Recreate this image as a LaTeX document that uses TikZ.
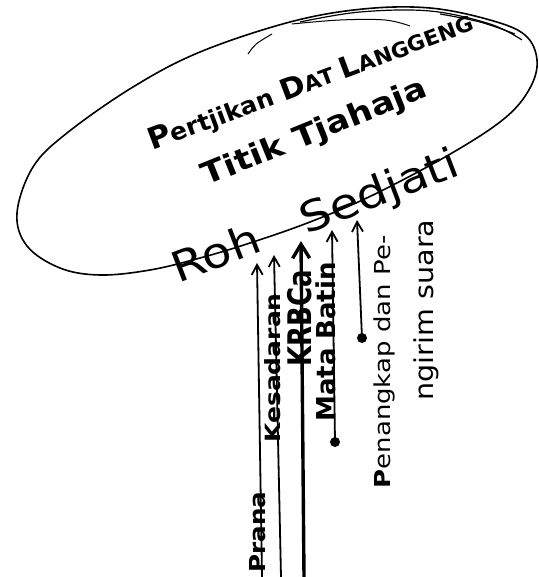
\documentclass[tikz,border=0pt]{standalone}
\usepackage{fontspec}
\setmainfont{DejaVu Sans}
\usetikzlibrary{arrows.meta}
\newcommand\fsz[1]{\fontsize{#1}{#1}\selectfont}
\begin{document}
\begin{tikzpicture}[x=1pt,y=-1pt,
  sketch/.style={line width=1.6pt, line cap=round, line join=round},
  arr/.style={line width=1.8pt, -{Straight Barb[length=10pt,width=11pt,line width=1.8pt]}},
  bigarr/.style={line width=3.4pt, -{Straight Barb[length=14pt,width=17pt,line width=3.4pt]}},
  vlbl/.style={inner sep=0pt, anchor=mid, rotate=90},
  dotnode/.style={circle, fill=black, inner sep=0pt, minimum size=10pt}]
\useasboundingbox (0,0) rectangle (538,577);

% sketched ellipse
\draw[sketch] plot[smooth cycle, tension=0.6] coordinates {
  (17,213) (27,246) (60,268) (100,275) (150,270) (200,258) (250,243)
  (310,222) (373,195) (452,153) (505,118) (530,88) (537,60) (525,35)
  (490,20) (430,8) (363,9) (290,22) (200,52) (133,87) (67,133) (33,167)};
\draw[line width=1.2pt] plot[smooth, tension=0.6] coordinates {
  (300,22) (360,12) (430,11) (490,24) (522,40)};
\draw[line width=1pt] plot[smooth, tension=0.6] coordinates {
  (292,24) (340,20) (385,20) (410,26)};
\draw[line width=1.2pt] plot[smooth, tension=0.6] coordinates {
  (440,14) (480,22) (515,34)};
\draw[line width=1pt] (248,54) .. controls (255,44) .. (272,34);

% texts inside the ellipse
\node[inner sep=0pt, anchor=base, rotate=20.5] (pertjikan) at (314,90)
  {\bfseries\scalebox{1.04}[1]{\fsz{30}P\fsz{24}ertjikan \fsz{29}D\fsz{21}AT \fsz{29}L\fsz{21}ANGGENG}};
\node[inner sep=0pt, anchor=base, rotate=22] (titik) at (318,141)
  {\bfseries\scalebox{1.15}[1]{\fsz{30}Titik Tjahaja}};
\node[inner sep=0pt, anchor=base, rotate=21] (roh) at (320,229)
  {\scalebox{1.15}[1]{\fsz{42}Roh\hspace{40pt}Sedjati}};

% arrows
\coordinate (pranaBot) at (262,577);
\coordinate (pranaTip) at (257,263);
\coordinate (kesBot) at (281,577);
\coordinate (kesTip) at (274,255);
\coordinate (krbBot) at (304,577);
\coordinate (krbTip) at (301,241);
\node[dotnode] (mataDot) at (335,442) {};
\coordinate (mataTip) at (332,230);
\node[dotnode] (penDot) at (362,338) {};
\coordinate (penTip) at (357,220);

\draw[arr] (pranaBot) -- (pranaTip);
\draw[arr] (kesBot) -- (kesTip);
\draw[bigarr] (krbBot) -- (krbTip);
\draw[arr] (mataDot.center) -- (mataTip);
\draw[arr] (penDot.center) -- (penTip);

% vertical labels
\node[vlbl, font=\bfseries\fsz{22}] (prana) at (263,532) {\scalebox{1.12}[1]{Prana}};
\node[vlbl, font=\bfseries\fsz{21}] (kesadaran) at (278,368) {\scalebox{1.19}[1]{Kesadaran}};
\node[inner sep=0pt, anchor=center, rotate=90, font=\bfseries\fsz{26}] (krbca) at (300,318) {\scalebox{1}[1.25]{KRBCa}};
\node[vlbl, font=\bfseries\fsz{26}] (mata) at (333,342) {Mata Batin};
\node[vlbl, font=\fsz{22}] (penangkap) at (388,362) {\scalebox{1.18}[1]{{\bfseries P}enangkap dan Pe-}};
\node[vlbl, font=\fsz{26}] (ngirim) at (431,310) {\scalebox{1.1}[1]{ngirim suara}};
\end{tikzpicture}
\end{document}
